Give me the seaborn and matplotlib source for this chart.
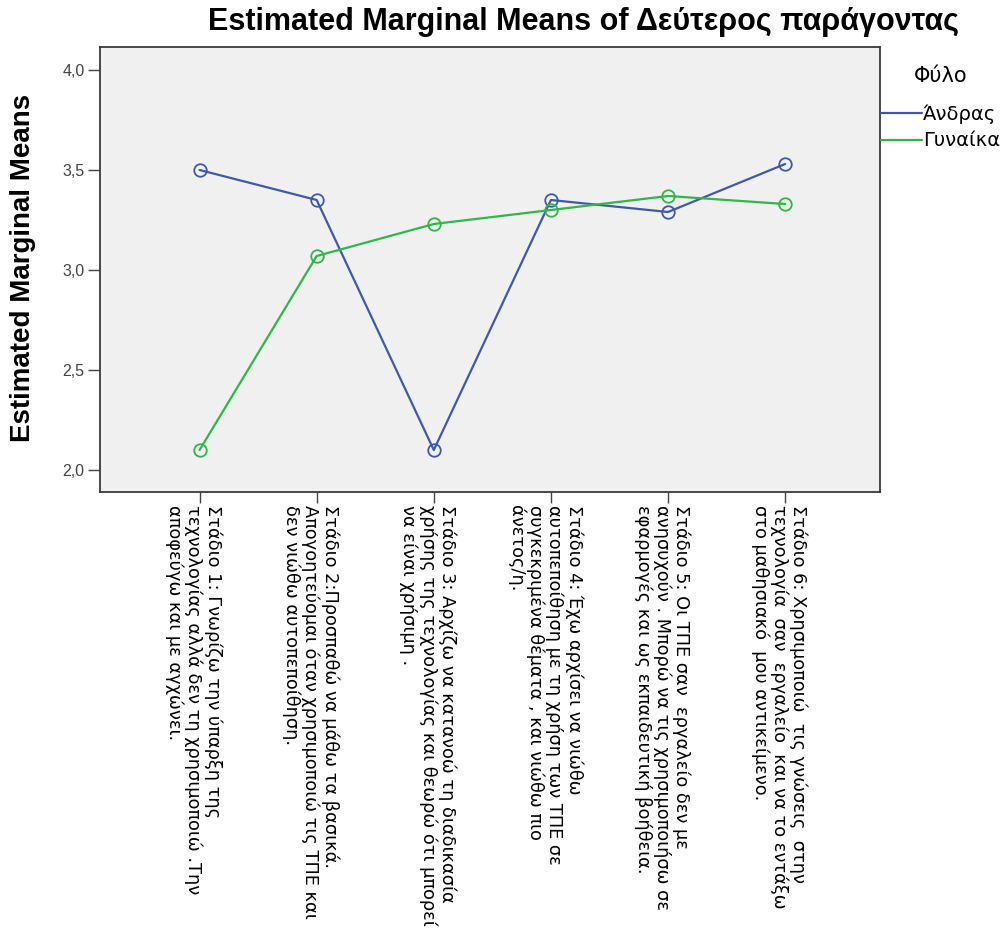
import matplotlib
matplotlib.use("Agg")
import matplotlib.pyplot as plt
import matplotlib.transforms as mtransforms
import seaborn as sns
import pandas as pd

# Stages of the second factor (x categories)
stages = [
    "Στάδιο 1: Γνωρίζω την ύπαρξη της\nτεχνολογίας αλλά δεν τη χρησιμοποιώ .Την\nαποφεύγω και με αγχώνει.",
    "Στάδιο 2:Προσπαθώ να μάθω τα βασικά.\nΑπογοητεύομαι όταν χρησιμοποιώ τις ΤΠΕ και\nδεν νιώθω αυτοπεποίθηση.",
    "Στάδιο 3: Αρχίζω να κατανοώ τη διαδικασία\nχρήσης της τεχνολογίας και θεωρώ ότι μπορεί\nνα είναι χρήσιμη .",
    "Στάδιο 4: Έχω αρχίσει να νιώθω\nαυτοπεποίθηση με τη χρήση των ΤΠΕ σε\nσυγκεκριμένα θέματα , και νιώθω πιο\nάνετος/η.",
    "Στάδιο 5: Οι ΤΠΕ σαν  εργαλείο δεν με\nανησυχούν . Μπορώ να τις χρησιμοποιήσω σε\nεφαρμογές και ως εκπαιδευτική βοήθεια.",
    "Στάδιο 6: Χρησιμοποιώ  τις γνώσεις  στην\nτεχνολογία  σαν  εργαλείο  και να το εντάξω\nστο μαθησιακό  μου αντικείμενο.",
]

# Estimated marginal means per gender
men = [3.50, 3.35, 2.10, 3.35, 3.29, 3.53]
women = [2.10, 3.07, 3.23, 3.30, 3.37, 3.33]
groups = ["Άνδρας", "Γυναίκα"]

yticks = [2.0, 2.5, 3.0, 3.5, 4.0]

df = pd.DataFrame({
    "stage": list(range(len(stages))) * 2,
    "mean": men + women,
    "Φύλο": [groups[0]] * len(men) + [groups[1]] * len(women),
})

sns.set_theme(style="white")
plt.rcParams["font.family"] = ["DejaVu Sans"]
plt.rcParams["text.color"] = "black"

palette = {"Άνδρας": "#3E58AC", "Γυναίκα": "#2EB848"}

fig = plt.figure(figsize=(10.06, 9.34), dpi=100)
ax = fig.add_axes([0.0994, 0.4732, 0.7754, 0.4765])
ax.set_facecolor("#F0F0F0")

sns.lineplot(
    data=df, x="stage", y="mean", hue="Φύλο", palette=palette,
    marker="o", markersize=9, markerfacecolor="none", markeredgewidth=1.3,
    linewidth=1.6, ax=ax, legend=False, errorbar=None,
)
# open circles: edge colour follows each line
for line in ax.get_lines():
    line.set_markeredgecolor(line.get_color())

ax.set_xlim(-0.85, 5.81)
ax.set_ylim(1.89, 4.115)
ax.set_yticks(yticks)
ax.set_yticklabels([f"{v:.1f}".replace(".", ",") for v in yticks],
                   fontsize=11.5, color="#444444", family="Liberation Sans")
ax.set_xticks(range(len(stages)))
ax.set_xticklabels(stages, rotation=-90, fontsize=12.8, ha="center", va="top",
                   multialignment="left", color="black", linespacing=1.05)
ax.tick_params(axis="y", direction="out", length=9, width=1, color="#444444", left=True, pad=2)
ax.tick_params(axis="x", direction="out", length=8, width=1, color="#444444", bottom=True, pad=1)
shift = mtransforms.ScaledTranslation(-6 / 100, 0, fig.dpi_scale_trans)
for lbl in ax.get_xticklabels():
    lbl.set_transform(lbl.get_transform() + shift)
for s in ax.spines.values():
    s.set_color("#3a3a3a")
    s.set_linewidth(1.3)

ax.set_xlabel("")
ax.set_ylabel("")
fig.text(23 / 1006, 1 - 268 / 934, "Estimated Marginal Means", rotation=90,
         ha="center", va="center", fontsize=20, fontweight="bold",
         family="Liberation Sans", color="black")

fig.text(583 / 1006, 1 - 22 / 934, "Estimated Marginal Means of Δεύτερος παράγοντας",
         ha="center", va="center", fontsize=22, fontweight="bold",
         family="Liberation Sans", color="black")

handles = [plt.Line2D([], [], color=palette[g], lw=1.6) for g in groups]
leg = fig.legend(handles, groups, title="Φύλο", loc="upper left",
                 bbox_to_anchor=(0.876, 0.9293), frameon=False, fontsize=14,
                 title_fontsize=15, handlelength=2.1, handletextpad=0.05,
                 labelspacing=0.4, borderaxespad=0, borderpad=0)
leg._legend_box.sep = 13

fig.savefig("out.png", dpi=100)
